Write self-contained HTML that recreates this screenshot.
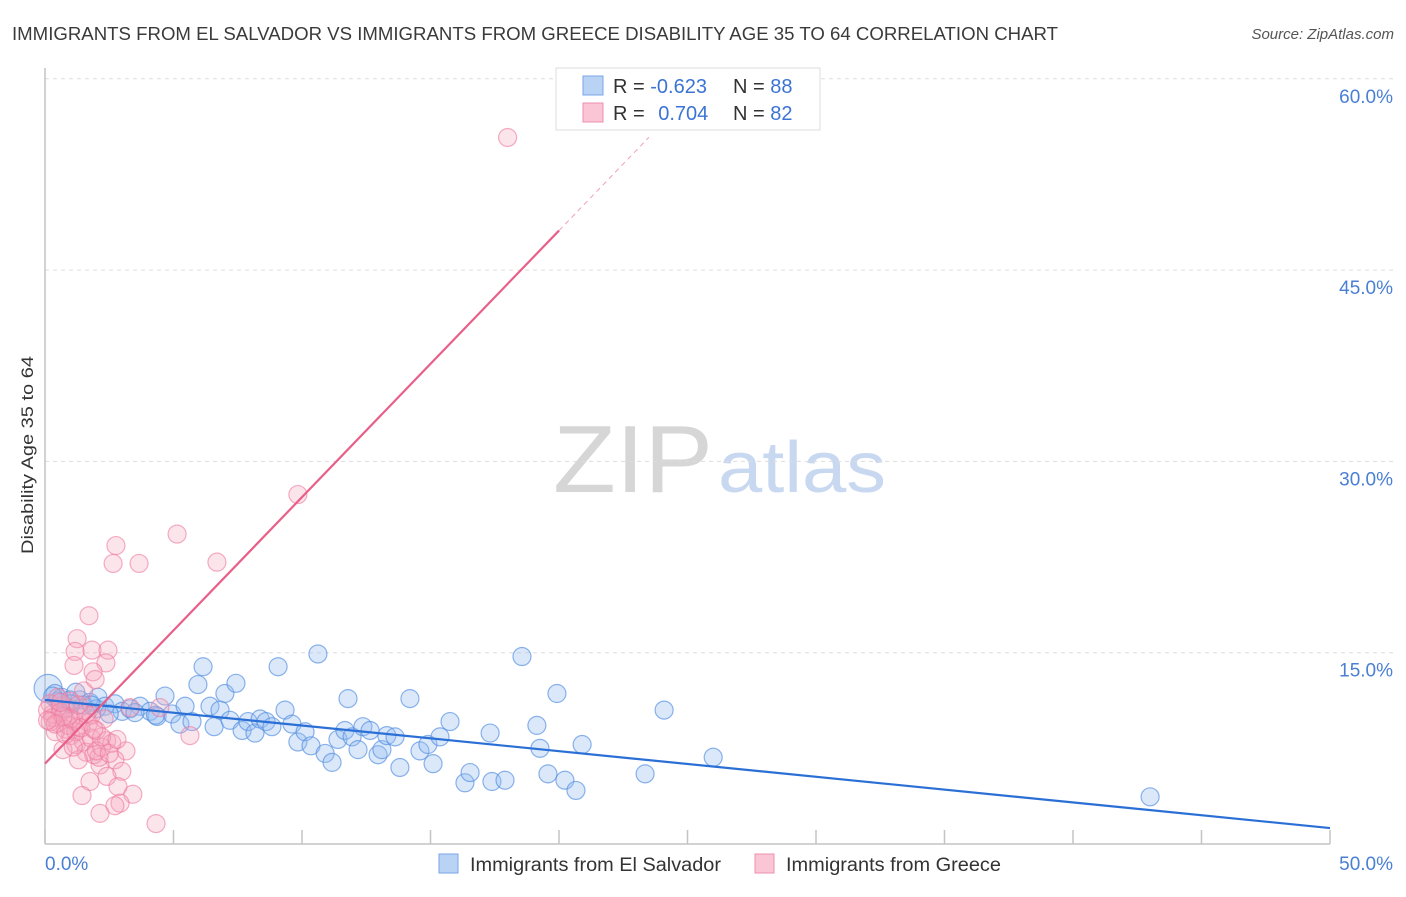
<!DOCTYPE html>
<html><head><meta charset="utf-8"><style>
body{margin:0;background:#fff;font-family:"Liberation Sans",sans-serif;}
svg text{font-family:"Liberation Sans",sans-serif;}
</style></head><body>
<svg id="chart" width="1406" height="892" xmlns="http://www.w3.org/2000/svg">
<text x="12" y="40" font-size="18" fill="#3a3a3a" textLength="1046" lengthAdjust="spacingAndGlyphs">IMMIGRANTS FROM EL SALVADOR VS IMMIGRANTS FROM GREECE DISABILITY AGE 35 TO 64 CORRELATION CHART</text>
<text x="1394" y="39" font-size="15" fill="#555" font-style="italic" text-anchor="end">Source: ZipAtlas.com</text>
<g>
<text x="553" y="492" font-size="96" font-family="Liberation Serif" fill="#d6d6d6" textLength="160" lengthAdjust="spacingAndGlyphs">ZIP</text>
<text x="718" y="492" font-size="72" fill="#c8d8f0" textLength="168" lengthAdjust="spacingAndGlyphs">atlas</text>
</g>
<g id="grid"></g>
<g id="axes"></g>
<g id="marks"></g>
<text transform="translate(33,455) rotate(-90)" font-size="17" fill="#333" text-anchor="middle" textLength="198" lengthAdjust="spacingAndGlyphs">Disability Age 35 to 64</text>
<g>
<rect x="556" y="68" width="264" height="62" fill="#fff" stroke="#ddd"/>
<rect x="583" y="76" width="20" height="19" fill="#b9d3f5" stroke="#7aa6e6"/>
<rect x="583" y="103" width="20" height="19" fill="#fac6d5" stroke="#ee8fab"/>
<text x="613" y="93" font-size="20" fill="#333">R = <tspan fill="#3b74d4">-0.623</tspan></text>
<text x="733" y="93" font-size="20" fill="#333">N = <tspan fill="#3b74d4">88</tspan></text>
<text x="613" y="120" font-size="20" fill="#333">R = <tspan fill="#3b74d4" dx="8">0.704</tspan></text>
<text x="733" y="120" font-size="20" fill="#333">N = <tspan fill="#3b74d4">82</tspan></text>
</g>
<g>
<rect x="439" y="854" width="19" height="19" fill="#b9d3f5" stroke="#7aa6e6"/>
<text x="470" y="871" font-size="19" fill="#333" textLength="251" lengthAdjust="spacingAndGlyphs">Immigrants from El Salvador</text>
<rect x="755" y="854" width="19" height="19" fill="#fac6d5" stroke="#ee8fab"/>
<text x="786" y="871" font-size="19" fill="#333" textLength="215" lengthAdjust="spacingAndGlyphs">Immigrants from Greece</text>
</g>
</svg>
<script>
const yTicks=[15,30,45,60];
const yTickLabels=["15.0%","30.0%","45.0%","60.0%"];
const xTicks=[0,5,10,15,20,25,30,35,40,45,50];
const blueX=[0.12,0.39,0.66,0.97,1.36,1.75,2.06,2.33,2.72,3.0,3.31,3.7,4.09,4.36,4.67,4.94,5.25,5.45,5.72,5.95,6.15,6.42,6.58,6.81,7.0,7.2,7.43,7.67,7.9,8.17,8.37,8.6,8.83,9.07,9.34,9.61,9.84,10.12,10.35,10.62,10.9,11.17,11.4,11.67,11.79,11.95,12.18,12.37,12.65,12.96,13.11,13.3,13.62,13.81,14.2,14.59,14.9,15.1,15.37,15.76,16.34,16.54,17.39,17.32,17.9,18.56,19.14,19.26,19.57,19.92,20.23,20.66,20.9,23.35,24.09,26.0,43.0,0.5,0.8,1.2,1.5,2.0,2.5,3.5,4.3,0.3,1.0,1.8];
const blueY=[12.2,11.8,11.5,11.3,11.3,11.1,11.5,10.8,11.0,10.4,10.6,10.8,10.4,10.0,11.6,10.2,9.4,10.8,9.6,12.5,13.9,10.8,9.2,10.5,11.8,9.7,12.6,8.9,9.6,8.7,9.8,9.6,9.2,13.9,10.5,9.4,8.0,8.8,7.7,14.9,7.1,6.4,8.2,8.9,11.4,8.4,7.4,9.2,8.9,7.0,7.4,8.5,8.4,6.0,11.4,7.3,7.8,6.3,8.4,9.6,4.8,5.6,4.9,8.7,5.0,14.7,9.3,7.5,5.5,11.8,5.0,4.2,7.8,5.5,10.5,6.8,3.7,11.2,10.6,11.9,10.9,10.6,10.2,10.3,10.1,11.6,11.0,10.9];
const pinkX=[18.0,9.84,5.14,2.76,2.65,3.66,6.69,1.71,1.25,1.17,1.83,2.45,1.13,2.37,1.87,1.95,5.64,3.15,2.72,2.14,2.99,2.41,1.75,1.44,2.84,3.42,2.92,2.72,2.14,4.32,3.31,4.47,0.3,0.5,0.6,0.8,0.9,1.0,1.1,1.2,1.3,1.4,1.5,1.6,1.7,1.8,1.9,2.0,2.1,2.2,2.3,2.4,0.2,0.4,0.7,1.0,1.3,1.8,2.6,0.5,1.5,0.9,1.2,2.0,0.1,0.3,0.6,1.0,1.4,0.2,0.7,1.6,2.2,0.4,0.8,1.1,1.9,2.5,0.6,1.3,0.1,2.8];
const pinkY=[55.4,27.4,24.3,23.4,22.0,22.0,22.1,17.9,16.1,15.1,15.2,15.2,14.0,14.2,13.5,12.9,8.5,7.3,6.6,6.2,5.7,5.3,4.9,3.8,4.5,3.9,3.2,3.0,2.4,1.6,10.7,10.7,10.2,9.5,10.8,9.0,10.0,8.5,9.7,7.8,9.2,10.4,8.0,7.2,9.5,8.3,7.0,8.9,6.8,7.6,9.8,8.1,11.0,8.8,7.4,11.2,6.6,10.1,7.9,11.5,12.0,9.3,8.8,7.3,10.5,9.9,10.3,9.8,9.1,9.6,10.0,10.2,8.4,9.4,8.6,7.6,9.0,7.1,11.1,10.9,9.7,8.2];
const blueTrend=[11.3,1.25];
const pinkTrend=[6.3,48.1];
const pinkDashEnd=23.5;

const NS="http://www.w3.org/2000/svg";
const X=v=>45+v*(1285/50);
const Y=v=>844-v*(191.3/15);
function mk(tag,attrs,parent){const e=document.createElementNS(NS,tag);for(const k in attrs)e.setAttribute(k,attrs[k]);parent.appendChild(e);return e;}
const grid=document.getElementById('grid'),axes=document.getElementById('axes'),marks=document.getElementById('marks');
yTicks.forEach((t,i)=>{
 const l=mk('line',{x1:45,x2:1393,y1:Y(t),y2:Y(t),stroke:'#ddd','stroke-dasharray':'4,4'},grid);
 
 
 const tx=mk('text',{x:1393,y:Y(t)+24,'font-size':19,fill:'#4a7fd4','text-anchor':'end'},axes);
 tx.textContent=yTickLabels[i];
 
 
});
const ax=mk('line',{x1:45,x2:1330,y1:844,y2:844,stroke:'#c4c4c4','stroke-width':1.5},axes);


const ay=mk('line',{x1:45,x2:45,y1:68,y2:844,stroke:'#c4c4c4','stroke-width':1.5},axes);


xTicks.forEach(t=>{
 const l=mk('line',{x1:X(t),x2:X(t),y1:830,y2:844,stroke:'#c4c4c4','stroke-width':1.5},axes);
 
 
});
const xl0=mk('text',{x:45,y:870,'font-size':19,fill:'#4a7fd4'},axes);xl0.textContent='0.0%';


const xl1=mk('text',{x:1393,y:870,'font-size':19,fill:'#4a7fd4','text-anchor':'end'},axes);xl1.textContent='50.0%';



blueX.forEach((v,i)=>{
 const c=mk('circle',{cx:X(v),cy:Y(blueY[i]),r:i===0?14:9,fill:'rgba(150,190,240,0.35)',stroke:'rgba(80,140,225,0.65)','stroke-width':1.2},marks);
 
 
});
pinkX.forEach((v,i)=>{
 const c=mk('circle',{cx:X(v),cy:Y(pinkY[i]),r:9,fill:'rgba(245,165,190,0.3)',stroke:'rgba(236,120,158,0.6)','stroke-width':1.2},marks);
 
 
});
const bt=mk('line',{x1:X(0),y1:Y(blueTrend[0]),x2:X(50),y2:Y(blueTrend[1]),stroke:'#2a6fd6','stroke-width':2.2},marks);


const pt=mk('line',{x1:X(0),y1:Y(pinkTrend[0]),x2:X(20),y2:Y(pinkTrend[1]),stroke:'#e8608a','stroke-width':2.2},marks);


const slope=(pinkTrend[1]-pinkTrend[0])/20;
const pd=mk('line',{x1:X(20),y1:Y(pinkTrend[1]),x2:X(pinkDashEnd),y2:Y(pinkTrend[0]+slope*pinkDashEnd),stroke:'#f0a0b8','stroke-width':1,'stroke-dasharray':'5,4'},marks);


</script>
</body></html>
